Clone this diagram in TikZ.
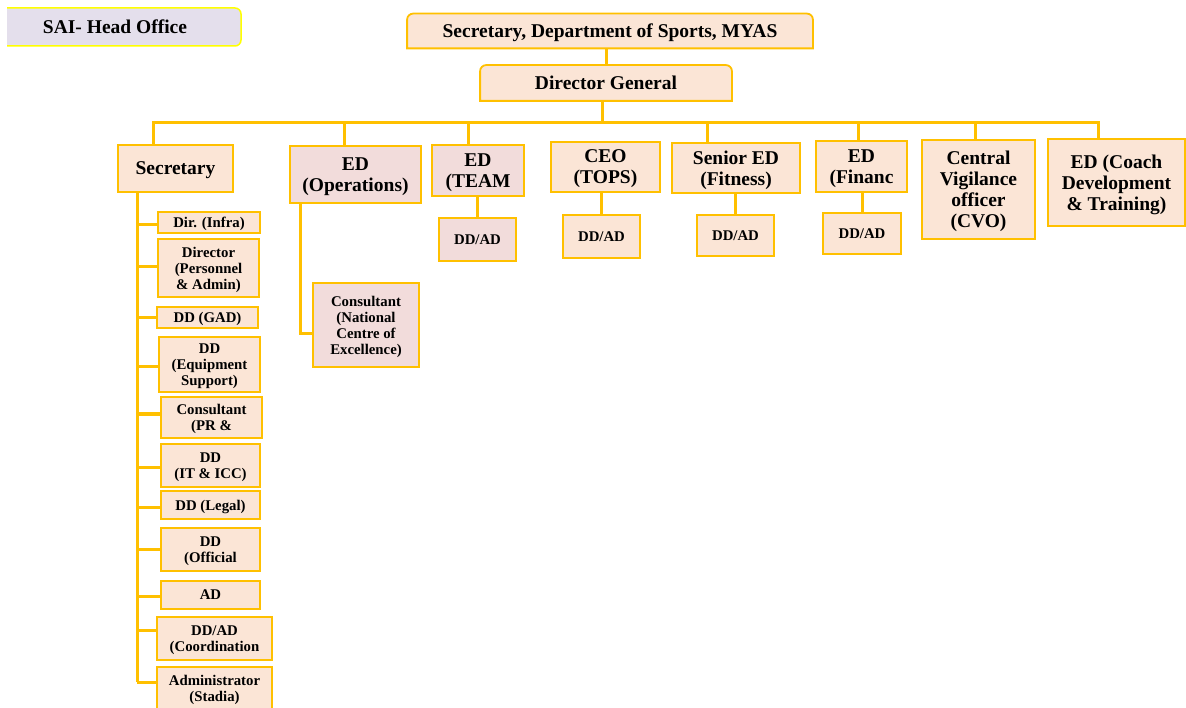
\documentclass[tikz,border=0pt]{standalone}
\usepackage{fontspec}
\setmainfont{Liberation Serif}
\usetikzlibrary{backgrounds}
\definecolor{peche}{HTML}{FBE5D6}
\definecolor{rose}{HTML}{F2DCDB}
\definecolor{lavande}{HTML}{E4DFEC}
\definecolor{ocre}{HTML}{FFC000}
\definecolor{jaune}{HTML}{FFFF00}
\begin{document}
\begin{tikzpicture}[x=1pt,y=-1pt,
  boite/.style={draw=ocre,line width=1.8pt,fill=peche,align=center,inner sep=1pt,text depth=0pt,
    font=\fontsize{19.5}{21}\selectfont\bfseries},
  boiterose/.style={boite,fill=rose},
  petite/.style={boite,font=\fontsize{14.8}{16}\selectfont\bfseries},
  petiterose/.style={petite,fill=rose},
  ligne/.style={draw=ocre,line width=3pt}]
\useasboundingbox (0,0) rectangle (1186,708);
% en-tete
\node (sai) at (115,27) [font=\fontsize{19.5}{21}\selectfont\bfseries] {SAI- Head Office};
\node (secdep) at (610,31) [boite,draw=none,fill=none,minimum width=404pt,minimum height=33pt] {Secretary, Department of Sports, MYAS};
\node (dg) at (606,83) [boite,draw=none,fill=none,minimum width=250pt,minimum height=34pt] {Director General};
\begin{scope}[on background layer]
\draw [jaune,line width=1.5pt,fill=lavande] (7,8) [rounded corners=6pt] -- (241,8) -- (241,46) [sharp corners] -- (7,46);
\draw [ocre,line width=1.8pt,fill=peche] (secdep.south west) [rounded corners=6pt] -- (secdep.north west) -- (secdep.north east) [sharp corners] -- (secdep.south east) -- cycle;
\draw [ocre,line width=1.8pt,fill=peche] (dg.south west) [rounded corners=6pt] -- (dg.north west) -- (dg.north east) [sharp corners] -- (dg.south east) -- cycle;
\end{scope}
% premier niveau
\node (sec) at (175.5,168.5) [boite,minimum width=115pt,minimum height=47pt] {Secretary};
\node (edops) at (355.5,174.5) [boiterose,minimum width=131pt,minimum height=57pt] {ED\\(Operations)};
\node (edteam) at (478,170.5) [boiterose,minimum width=92pt,minimum height=51pt] {ED\\(TEAM};
\node (ceo) at (605.5,167) [boite,minimum width=109pt,minimum height=50pt] {CEO\\(TOPS)};
\node (senior) at (736,168) [boite,minimum width=128pt,minimum height=50pt] {Senior ED\\(Fitness)};
\node (edfin) at (861.5,166.5) [boite,minimum width=91pt,minimum height=51pt] {ED\\(Financ};
\node (cvo) at (978.5,189.5) [boite,minimum width=113pt,minimum height=99pt] {Central\\Vigilance\\officer\\(CVO)};
\node (edcoach) at (1116.5,182.5) [boite,minimum width=137pt,minimum height=87pt] {ED (Coach\\Development\\\& Training)};
% DD/AD
\node (ddteam) at (477.5,239.5) [petiterose,minimum width=77pt,minimum height=43pt] {DD/AD};
\node (ddceo) at (601.5,236.5) [petite,minimum width=77pt,minimum height=43pt] {DD/AD};
\node (ddsen) at (735.5,235.5) [petite,minimum width=77pt,minimum height=41pt] {DD/AD};
\node (ddfin) at (862,233.5) [petite,minimum width=78pt,minimum height=41pt] {DD/AD};
\node (cons) at (366,325) [petiterose,minimum width=106pt,minimum height=84pt] {Consultant\\(National\\Centre of\\Excellence)};
% colonne du secretary
\node (infra) at (209,222.5) [petite,minimum width=102pt,minimum height=21pt] {Dir. (Infra)};
\node (pers) at (208.5,268) [petite,minimum width=101pt,minimum height=58pt] {Director\\(Personnel\\\& Admin)};
\node (gad) at (207.5,317.5) [petite,minimum width=101pt,minimum height=21pt] {DD (GAD)};
\node (equip) at (209.5,364.5) [petite,minimum width=101pt,minimum height=55pt] {DD\\(Equipment\\Support)};
\node (pr) at (211.5,417.5) [petite,minimum width=101pt,minimum height=41pt] {Consultant\\(PR \&};
\node (it) at (210.5,465.5) [petite,minimum width=99pt,minimum height=43pt] {DD\\(IT \& ICC)};
\node (legal) at (210.5,505) [petite,minimum width=99pt,minimum height=28pt] {DD (Legal)};
\node (offic) at (210.5,549.5) [petite,minimum width=99pt,minimum height=43pt] {DD\\(Official};
\node (ad) at (210.5,595) [petite,minimum width=99pt,minimum height=28pt] {AD};
\node (coord) at (214.5,638.5) [petite,minimum width=115pt,minimum height=43pt] {DD/AD\\(Coordination};
\node (stadia) at (214.5,688) [petite,minimum width=115pt,minimum height=42pt] {Administrator\\(Stadia)};
% liaisons
\coordinate (bus) at (602,123);
\draw [ligne] (secdep.south -| dg.north) -- (dg.north);
\draw [ligne] (dg.south -| bus) -- (bus);
\foreach \n/\d in {sec/-22.5,edops/-11.5,edteam/-10,senior/-29,edfin/-3.5,cvo/-3.5,edcoach/-18.5}
  \draw [ligne] ([xshift=\d pt]\n.north) |- (bus);
\foreach \n/\c in {ddteam/edteam,ddceo/ceo,ddsen/senior,ddfin/edfin}
  \draw [ligne] (\n.north) -- (\n.north |- \c.south);
\draw [ligne] ([xshift=11pt]edops.south west) |- ([yshift=-9pt]cons.west);
\coordinate (epine) at ([xshift=20pt]sec.south west);
\draw [ligne] (epine) -- ([yshift=6pt]stadia.west -| epine);
\foreach \n/\d in {infra/-2.5,pers/1,gad/0,equip/-2.5,pr/3.5,it/-1.5,legal/-2,offic/0.5,ad/-1,coord/8.5,stadia/6}
  \draw [ligne] ([yshift=\d pt]\n.west) -- ([yshift=\d pt]\n.west -| epine);
\end{tikzpicture}
\end{document}
